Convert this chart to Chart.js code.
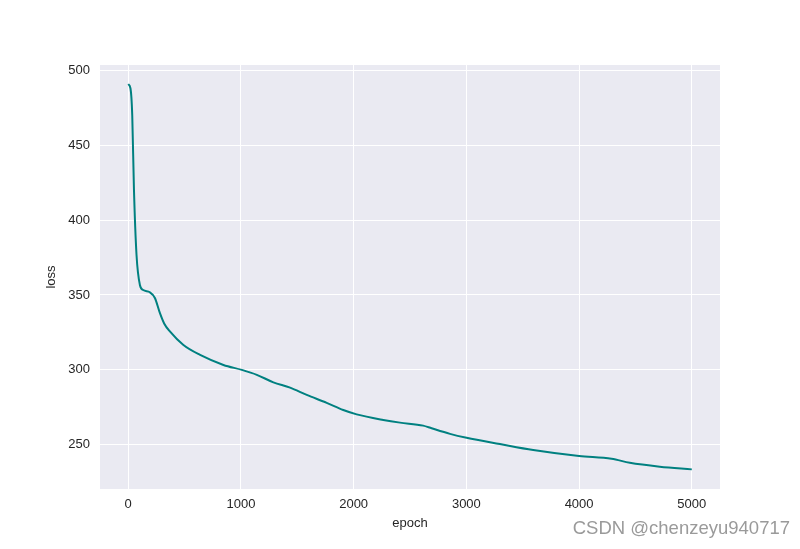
<!DOCTYPE html>
<html>
<head>
<meta charset="utf-8">
<script src="https://cdn.jsdelivr.net/npm/chart.js@4/dist/chart.umd.min.js"></script>
<style>
  body { margin: 0; background: #fff; }
</style>
</head>
<body>
<canvas id="lossChart" width="800" height="549"></canvas>
<script>
// 横軸(epoch)と損失値
const epochs = [0, 20, 36, 51, 74, 104, 133, 192, 237, 281, 319, 372, 490, 638, 845, 1008, 1141, 1288, 1436, 1584, 1761, 1908, 2027, 2263, 2411, 2617, 2692, 2855, 3002, 3298, 3593, 4000, 4288, 4450, 4716, 5000];
const losses = [490.7, 488, 470, 421, 376.7, 356.7, 353.3, 351.8, 348, 338, 331, 325.5, 316.6, 310, 303.3, 300, 296.7, 291.7, 288.2, 283.3, 278, 273.2, 270.3, 266.6, 264.8, 262.8, 261, 257.3, 254.7, 250.5, 246.5, 242.5, 240.7, 238, 235.4, 233.6];
// 目盛り
const xTicks = [0, 1000, 2000, 3000, 4000, 5000];
const yTicks = [250, 300, 350, 400, 450, 500];

const TEXT_COLOR = '#262626';
const FONT = 'Liberation Sans, Arial, sans-serif';

// プロット領域の背景(seaborn風)
const bgPlugin = {
  id: 'plotBg',
  beforeDraw(chart) {
    const { ctx, chartArea: a } = chart;
    ctx.save();
    ctx.fillStyle = '#EAEAF2';
    ctx.fillRect(a.left, a.top, a.right - a.left, a.bottom - a.top);
    ctx.restore();
  }
};

// 透かし
const watermark = {
  id: 'watermark',
  afterDraw(chart) {
    const ctx = chart.ctx;
    ctx.save();
    ctx.font = '18.5px ' + FONT;
    ctx.fillStyle = '#9a9a9a';
    ctx.textAlign = 'right';
    ctx.textBaseline = 'middle';
    ctx.fillText('CSDN @chenzeyu940717', 790, 529);
    ctx.restore();
  }
};

const data = epochs.map((e, i) => ({ x: e, y: losses[i] }));

new Chart(document.getElementById('lossChart').getContext('2d'), {
  type: 'line',
  data: {
    datasets: [{
      data: data,
      borderColor: '#008080',
      borderWidth: 2,
      pointRadius: 0,
      cubicInterpolationMode: 'monotone',
      fill: false
    }]
  },
  options: {
    responsive: false,
    animation: false,
    layout: { padding: { top: 65, right: 80, left: 0, bottom: 0 } },
    plugins: {
      legend: { display: false },
      tooltip: { enabled: false }
    },
    scales: {
      x: {
        type: 'linear',
        min: -250,
        max: 5250,
        afterBuildTicks: s => { s.ticks = xTicks.map(v => ({ value: v })); },
        afterFit: s => { s.height = 60; },
        grid: { color: '#ffffff', lineWidth: 1, drawTicks: false },
        border: { display: false },
        ticks: {
          padding: 8,
          color: TEXT_COLOR,
          font: { family: FONT, size: 13 },
          maxRotation: 0,
          callback: v => String(v)
        },
        title: {
          display: true,
          text: 'epoch',
          color: TEXT_COLOR,
          font: { family: FONT, size: 13 },
          padding: { top: 0, bottom: 18 }
        }
      },
      y: {
        min: 220.5,
        max: 503.5,
        afterBuildTicks: s => { s.ticks = yTicks.map(v => ({ value: v })); },
        afterFit: s => { s.width = 100; },
        grid: { color: '#ffffff', lineWidth: 1, drawTicks: false },
        border: { display: false },
        ticks: {
          padding: 10,
          color: TEXT_COLOR,
          font: { family: FONT, size: 13 },
          callback: v => String(v)
        },
        title: {
          display: true,
          text: 'loss',
          color: TEXT_COLOR,
          font: { family: FONT, size: 13 },
          padding: { top: 44, bottom: 0 }
        }
      }
    }
  },
  plugins: [bgPlugin, watermark]
});
</script>
</body>
</html>
